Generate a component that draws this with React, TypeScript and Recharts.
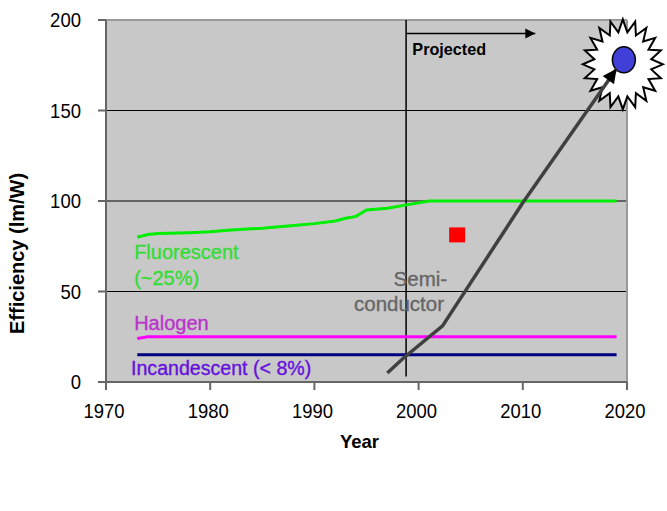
import React from "react";
import {
  ComposedChart,
  Line,
  XAxis,
  YAxis,
  CartesianGrid,
  ReferenceLine,
  ReferenceDot,
} from "recharts";

const xTicks = [1970, 1980, 1990, 2000, 2010, 2020];
const yTicks = [0, 50, 100, 150, 200];

const fluorescent = [
  { year: 1973, value: 80 },
  { year: 1974, value: 81.5 },
  { year: 1975, value: 82 },
  { year: 1978, value: 82.5 },
  { year: 1980, value: 83 },
  { year: 1982, value: 84 },
  { year: 1985, value: 85 },
  { year: 1988, value: 86.5 },
  { year: 1990, value: 87.5 },
  { year: 1992, value: 89 },
  { year: 1993, value: 90.5 },
  { year: 1994, value: 91.5 },
  { year: 1995, value: 95 },
  { year: 1997, value: 96 },
  { year: 1999, value: 98 },
  { year: 2001, value: 100 },
  { year: 2019, value: 100 },
];
const halogen = [
  { year: 1973, value: 24 },
  { year: 1974, value: 25 },
  { year: 2019, value: 25 },
];
const incandescent = [
  { year: 1973, value: 15 },
  { year: 2019, value: 15 },
];
const semiconductor = [
  { year: 1997, value: 5 },
  { year: 1998.5, value: 13 },
  { year: 2002.3, value: 31 },
  { year: 2010, value: 99 },
  { year: 2019, value: 173 },
];
const projected = [
  { year: 1998.8, value: 192.5 },
  { year: 2011.2, value: 192.5 },
];

const labels = [
  { text: "Fluorescent", year: 1972.7, value: 68 },
  { text: "(~25%)", year: 1972.7, value: 53.6 },
  { text: "Halogen", year: 1972.7, value: 28.7 },
  { text: "Incandescent (< 8%)", year: 1972.4, value: 3.9 },
  { text: "Semi-", year: 1997.6, value: 53 },
  { text: "conductor", year: 1993.8, value: 39 },
  { text: "Projected", year: 1999.4, value: 180.7 },
];

const labelStyles: any = {
  Fluorescent: { fill: "#33dd33", fontSize: 20 },
  "(~25%)": { fill: "#33dd33", fontSize: 20 },
  Halogen: { fill: "#bb33cc", fontSize: 20 },
  "Incandescent (< 8%)": { fill: "#6611dd", fontSize: 19.6 },
  "Semi-": { fill: "#666666", fontSize: 20.5 },
  conductor: { fill: "#666666", fontSize: 20.5 },
  Projected: { fill: "#000000", fontSize: 16.2, fontWeight: 700 },
};

const fontFamily = "'Liberation Sans', Arial, sans-serif";

function Star(props: any) {
  const { cx, cy } = props;
  const pts: string[] = [];
  const n = 20;
  for (let i = 0; i < n * 2; i++) {
    const a = (i * Math.PI) / n - Math.PI / 2;
    const k = i % 2 === 0 ? 1 : 0.72;
    pts.push(`${cx + 40 * k * Math.cos(a)},${cy + 45 * k * Math.sin(a)}`);
  }
  return <polygon points={pts.join(" ")} fill="#ffffff" stroke="#000000" strokeWidth={2} />;
}

function Sun(props: any) {
  return (
    <ellipse cx={props.cx} cy={props.cy} rx={11.5} ry={13} fill="#4040d8" stroke="#000000" strokeWidth={1.5} />
  );
}

function Square(props: any) {
  return <rect x={props.cx - 8} y={props.cy - 8} width={16} height={15} fill="#ff0000" />;
}

const arrowDot = (lastIndex: number, angle: number, size: number, color: string) => (props: any) => {
  if (props.index !== lastIndex) return <g key={props.index} />;
  const { cx, cy } = props;
  return (
    <polygon
      key={props.index}
      points={`${cx},${cy} ${cx - size / 2},${cy + size} ${cx + size / 2},${cy + size}`}
      transform={`rotate(${angle} ${cx} ${cy})`}
      fill={color}
    />
  );
};

function Label(props: any) {
  const { cx, cy, item } = props;
  const style = labelStyles[item.text];
  return (
    <text
      x={cx}
      y={cy}
      stroke={style.fontWeight ? "none" : style.fill}
      strokeWidth={0.35}
      fontFamily={fontFamily}
      {...style}
    >
      {item.text}
    </text>
  );
}

// the reference's tick digits are tall and narrow, so squeeze them
function XTick(props: any) {
  const { x, y, payload } = props;
  return (
    <text x={x - 2} y={y + 12} textAnchor="middle" fontSize={21} textLength={41} lengthAdjust="spacingAndGlyphs" fill="#000000" fontFamily={fontFamily}>
      {payload.value}
    </text>
  );
}

function YTick(props: any) {
  const { x, y, payload } = props;
  const text = String(payload.value);
  return (
    <text x={x} y={y + 7} textAnchor="end" fontSize={21} textLength={text.length * 10.3} lengthAdjust="spacingAndGlyphs" fill="#000000" fontFamily={fontFamily}>
      {text}
    </text>
  );
}

export default function App() {
  return (
    <div style={{ position: "absolute", left: 0, top: 0, width: 667, height: 511, background: "#ffffff" }}>
      <ComposedChart
        width={667}
        height={511}
        margin={{ top: 20, right: 40, bottom: 99, left: 36 }}
        style={{ fontFamily }}
      >
        <CartesianGrid horizontal vertical={false} stroke="#000000" fill="#c8c8c8" />
        <XAxis
          type="number"
          dataKey="year"
          domain={[1970, 2020]}
          ticks={xTicks}
          allowDuplicatedCategory={false}
          height={30}
          stroke="#666666"
          strokeWidth={2}
          tickSize={8}
          tickMargin={16}
          tick={<XTick />}
          label={{ value: "Year", position: "insideBottom", offset: -36, dx: -7, fill: "#000000", fontSize: 18.5, fontWeight: 700 }}
        />
        <YAxis
          type="number"
          domain={[0, 200]}
          ticks={yTicks}
          width={70}
          stroke="#666666"
          strokeWidth={2}
          tickSize={8}
          tickMargin={17}
          tick={<YTick />}
          label={{ value: "Efficiency (lm/W)", angle: -90, position: "insideLeft", offset: -19, dy: 133, fill: "#000000", fontSize: 20, fontWeight: 700 }}
        />
        <ReferenceLine y={200} stroke="#999999" strokeWidth={2} zIndex={100} />
        <ReferenceLine x={2020} stroke="#999999" strokeWidth={2} zIndex={100} />
        <ReferenceLine segment={[{ x: 1998.8, y: 3 }, { x: 1998.8, y: 200 }]} stroke="#000000" strokeWidth={1.5} zIndex={100} />
        <ReferenceDot x={2019.6} y={175.5} r={1} shape={Star} zIndex={200} />
        <ReferenceDot x={2019.7} y={178} r={1} shape={Sun} zIndex={210} />
        <ReferenceDot x={2003.7} y={81} r={1} shape={Square} />
        <Line data={fluorescent} dataKey="value" stroke="#00ee00" strokeWidth={3} dot={false} isAnimationActive={false} />
        <Line data={halogen} dataKey="value" stroke="#ff00ff" strokeWidth={3} dot={false} isAnimationActive={false} />
        <Line data={incandescent} dataKey="value" stroke="#000080" strokeWidth={3} dot={false} isAnimationActive={false} />
        <Line
          data={semiconductor}
          dataKey="value"
          stroke="#404040"
          strokeWidth={3.5}
          dot={arrowDot(semiconductor.length - 1, 36, 14, "#000000")}
          isAnimationActive={false}
        />
        <Line
          data={projected}
          dataKey="value"
          stroke="#000000"
          strokeWidth={1.5}
          dot={arrowDot(projected.length - 1, 90, 10, "#000000")}
          isAnimationActive={false}
        />
        {labels.map((item) => (
          <ReferenceDot key={item.text} x={item.year} y={item.value} r={1} shape={(p: any) => <Label {...p} item={item} />} />
        ))}
      </ComposedChart>
    </div>
  );
}
